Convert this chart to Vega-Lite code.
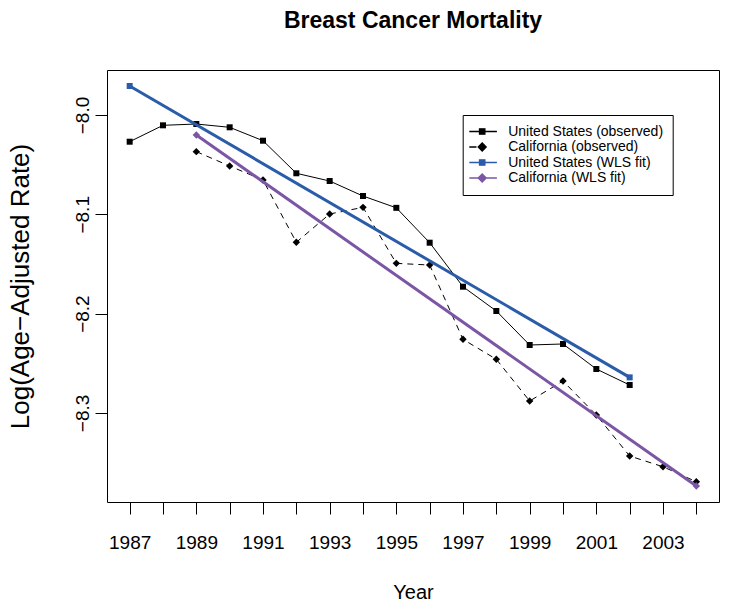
{
  "$schema": "https://vega.github.io/schema/vega-lite/v6.json",
  "width": 612,
  "height": 432,
  "autosize": "none",
  "padding": {"left": 107, "top": 70, "right": 10, "bottom": 108},
  "background": "white",
  "config": {
    "font": "Liberation Sans",
    "view": {"stroke": "black", "strokeWidth": 1},
    "axis": {
      "grid": false, "domain": false, "tickColor": "black", "tickSize": 12, "tickWidth": 1,
      "labelColor": "black", "labelFontSize": 19, "labelFont": "Liberation Sans",
      "titleColor": "black", "titleFontSize": 20, "titleFontWeight": "normal", "titleFont": "Liberation Sans",
      "labelOverlap": false, "labelFlush": false
    }
  },
  "title": {"text": "Breast Cancer Mortality", "fontSize": 23, "fontWeight": "bold", "anchor": "middle", "baseline": "alphabetic", "offset": 19.5, "color": "black", "font": "Liberation Sans"},
  "data": {"values": [
    {"series": "United States (observed)", "year": 1987, "value": -8.0269},
    {"series": "United States (observed)", "year": 1988, "value": -8.0104},
    {"series": "United States (observed)", "year": 1989, "value": -8.0091},
    {"series": "United States (observed)", "year": 1990, "value": -8.0124},
    {"series": "United States (observed)", "year": 1991, "value": -8.0259},
    {"series": "United States (observed)", "year": 1992, "value": -8.0587},
    {"series": "United States (observed)", "year": 1993, "value": -8.0665},
    {"series": "United States (observed)", "year": 1994, "value": -8.0816},
    {"series": "United States (observed)", "year": 1995, "value": -8.0935},
    {"series": "United States (observed)", "year": 1996, "value": -8.1286},
    {"series": "United States (observed)", "year": 1997, "value": -8.1729},
    {"series": "United States (observed)", "year": 1998, "value": -8.1974},
    {"series": "United States (observed)", "year": 1999, "value": -8.2316},
    {"series": "United States (observed)", "year": 2000, "value": -8.2306},
    {"series": "United States (observed)", "year": 2001, "value": -8.2558},
    {"series": "United States (observed)", "year": 2002, "value": -8.2719},
    {"series": "California (observed)", "year": 1989, "value": -8.0369},
    {"series": "California (observed)", "year": 1990, "value": -8.0514},
    {"series": "California (observed)", "year": 1991, "value": -8.0655},
    {"series": "California (observed)", "year": 1992, "value": -8.1282},
    {"series": "California (observed)", "year": 1993, "value": -8.0997},
    {"series": "California (observed)", "year": 1994, "value": -8.0930},
    {"series": "California (observed)", "year": 1995, "value": -8.1494},
    {"series": "California (observed)", "year": 1996, "value": -8.1511},
    {"series": "California (observed)", "year": 1997, "value": -8.2259},
    {"series": "California (observed)", "year": 1998, "value": -8.2460},
    {"series": "California (observed)", "year": 1999, "value": -8.2880},
    {"series": "California (observed)", "year": 2000, "value": -8.2679},
    {"series": "California (observed)", "year": 2001, "value": -8.3021},
    {"series": "California (observed)", "year": 2002, "value": -8.3434},
    {"series": "California (observed)", "year": 2003, "value": -8.3542},
    {"series": "California (observed)", "year": 2004, "value": -8.3693},
    {"series": "United States (WLS fit)", "year": 1987, "value": -7.9708},
    {"series": "United States (WLS fit)", "year": 2002, "value": -8.2642},
    {"series": "California (WLS fit)", "year": 1989, "value": -8.0201},
    {"series": "California (WLS fit)", "year": 2004, "value": -8.3736}
  ]},
  "encoding": {
    "x": {
      "field": "year", "type": "quantitative", "title": "Year",
      "scale": {"domain": [1986.32, 2004.68], "nice": false, "zero": false},
      "axis": {
        "values": [1987,1988,1989,1990,1991,1992,1993,1994,1995,1996,1997,1998,1999,2000,2001,2002,2003,2004],
        "format": "d", "labelExpr": "datum.value % 2 == 1 ? datum.label : ''",
        "labelPadding": 19, "titleBaseline": "alphabetic", "titleY": 96
      }
    },
    "y": {
      "field": "value", "type": "quantitative", "title": "Log(Age\u2212Adjusted Rate)",
      "scale": {"domain": [-8.3897, -7.9547], "nice": false, "zero": false},
      "axis": {
        "values": [-8.3, -8.2, -8.1, -8.0], "format": ".1f",
        "labelAngle": -90, "labelAlign": "center", "labelBaseline": "alphabetic", "labelPadding": 7,
        "titleBaseline": "alphabetic", "titleX": -79, "titleAngle": -90, "titleFontSize": 26
      }
    }
  },
  "layer": [
    {
      "transform": [{"filter": "datum.series == 'United States (observed)'"}],
      "mark": {"type": "line", "color": "black", "strokeWidth": 1, "point": {"shape": "square", "size": 36, "filled": true, "color": "black", "opacity": 1}}
    },
    {
      "transform": [{"filter": "datum.series == 'California (observed)'"}],
      "mark": {"type": "line", "color": "black", "strokeWidth": 1, "strokeDash": [6, 5], "point": {"shape": "diamond", "size": 55, "filled": true, "color": "black", "opacity": 1}}
    },
    {
      "transform": [{"filter": "datum.series == 'United States (WLS fit)'"}],
      "mark": {"type": "line", "color": "#2A5CAA", "strokeWidth": 3, "point": {"shape": "square", "size": 36, "filled": true, "color": "#2A5CAA", "opacity": 1}}
    },
    {
      "transform": [{"filter": "datum.series == 'California (WLS fit)'"}],
      "mark": {"type": "line", "color": "#7B56A5", "strokeWidth": 3, "point": {"shape": "diamond", "size": 55, "filled": true, "color": "#7B56A5", "opacity": 1}}
    },
    {
      "transform": [{"filter": "false"}],
      "mark": {"type": "point", "filled": true, "size": 36, "strokeWidth": 1.3, "opacity": 1},
      "encoding": {
        "fill": {
          "field": "series", "type": "nominal",
          "scale": {"domain": ["United States (observed)", "California (observed)", "United States (WLS fit)", "California (WLS fit)"], "range": ["black", "black", "#2A5CAA", "#7B56A5"]},
          "legend": {"title": null, "orient": "none", "legendX": 355.7, "legendY": 45, "strokeColor": "black", "fillColor": "white", "padding": 9.5, "rowPadding": 1.5, "labelOffset": 22, "labelFontSize": 14, "labelColor": "black", "labelFont": "Liberation Sans", "symbolSize": 36, "symbolStrokeWidth": 1.3, "symbolOpacity": 1}
        },
        "stroke": {
          "field": "series", "type": "nominal",
          "scale": {"domain": ["United States (observed)", "California (observed)", "United States (WLS fit)", "California (WLS fit)"], "range": ["black", "black", "#2A5CAA", "#7B56A5"]},
          "legend": {"title": null, "orient": "none", "legendX": 355.7, "legendY": 45, "strokeColor": "black", "fillColor": "white", "padding": 9.5, "rowPadding": 1.5, "labelOffset": 22, "labelFontSize": 14, "labelColor": "black", "labelFont": "Liberation Sans", "symbolSize": 36, "symbolStrokeWidth": 1.3, "symbolOpacity": 1}
        },
        "shape": {
          "field": "series", "type": "nominal",
          "scale": {"domain": ["United States (observed)", "California (observed)", "United States (WLS fit)", "California (WLS fit)"], "range": [
            "M-3.3,0H5.9M0.1,-0.9H1.9V0.9H0.1Z",
            "M-3.3,0H-0.9M-0.33,0L1,-1.33L2.33,0L1,1.33Z",
            "M-3.3,0H5.9M0.1,-0.9H1.9V0.9H0.1Z",
            "M-3.3,0H5.9M-0.33,0L1,-1.33L2.33,0L1,1.33Z"
          ]},
          "legend": {"title": null, "orient": "none", "legendX": 355.7, "legendY": 45, "strokeColor": "black", "fillColor": "white", "padding": 9.5, "rowPadding": 1.5, "labelOffset": 22, "labelFontSize": 14, "labelColor": "black", "labelFont": "Liberation Sans", "symbolSize": 36, "symbolStrokeWidth": 1.3, "symbolOpacity": 1}
        }
      }
    }
  ]
}
